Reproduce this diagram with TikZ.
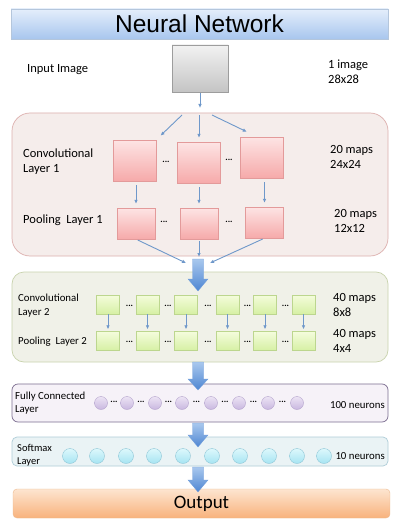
\documentclass[tikz,border=0pt]{standalone}
\usepackage{fontspec}
\setmainfont{Carlito}
\newfontfamily\titlefont{Liberation Sans}
\usepackage{tikz}
\usetikzlibrary{arrows.meta, positioning, calc}
\definecolor{titletop}{HTML}{E4EEFB}
\definecolor{titlebot}{HTML}{A8C6EE}
\definecolor{titleline}{HTML}{B4C6DC}
\definecolor{inputtop}{HTML}{F2F2F2}
\definecolor{inputbot}{HTML}{C4C4C4}
\definecolor{pinkpanel}{HTML}{F5EDEB}
\definecolor{pinkline}{HTML}{DDB0AE}
\definecolor{pinktop}{HTML}{FDE4E4}
\definecolor{pinkbot}{HTML}{F6AAAA}
\definecolor{pinkedge}{HTML}{E39A9A}
\definecolor{greenpanel}{HTML}{F0F1E8}
\definecolor{greenline}{HTML}{C9D3AE}
\definecolor{greentop}{HTML}{F4FCDC}
\definecolor{greenbot}{HTML}{D6F0A4}
\definecolor{greenedge}{HTML}{BCD68E}
\definecolor{purplepanel}{HTML}{F6F2F8}
\definecolor{purpleline}{HTML}{7C6D90}
\definecolor{purpletop}{HTML}{ECE4F4}
\definecolor{purplebot}{HTML}{C9B7E0}
\definecolor{purpleedge}{HTML}{B3A2CC}
\definecolor{cyanpanel}{HTML}{EAF3F5}
\definecolor{cyanline}{HTML}{AFCDD8}
\definecolor{cyantop}{HTML}{DDF8FC}
\definecolor{cyanbot}{HTML}{A6E4F2}
\definecolor{cyanedge}{HTML}{8EC6D6}
\definecolor{outtop}{HTML}{FDE5D0}
\definecolor{outbot}{HTML}{F8B27C}
\definecolor{outline}{HTML}{EDB98E}
\definecolor{arrowblue}{HTML}{6F98CA}
\definecolor{bigtop}{HTML}{A9C8EE}
\definecolor{bigbot}{HTML}{4E86D2}
\newcommand{\blockarrow}[4]{%
  \shade[top color=bigtop, bottom color=bigbot, draw=bigbot!80, line width=0.3pt]
    (#1-5.5,#2) -- (#1+5.5,#2) -- (#1+5.5,#3) -- (#1+10,#3) -- (#1,#4)
    -- (#1-10,#3) -- (#1-5.5,#3) -- cycle;}

\begin{document}
\begin{tikzpicture}[x=1pt, y=-1pt,
  lbl/.style={inner sep=0pt, align=left, anchor=west, font=\fontsize{12.5}{15}\selectfont},
  smlbl/.style={inner sep=0pt, align=left, anchor=west, font=\fontsize{10.8}{14}\selectfont},
  dots/.style={inner sep=0pt, font=\fontsize{9}{9}\selectfont\bfseries},
  thinarrow/.style={draw=arrowblue, line width=0.9pt, -{Latex[length=4pt, width=3.6pt]}},
  pinksq/.style={draw=pinkedge, line width=0.4pt, top color=pinktop, bottom color=pinkbot, inner sep=0pt},
  greensq/.style={draw=greenedge, line width=0.4pt, top color=greentop, bottom color=greenbot,
    inner sep=0pt, minimum width=23pt, minimum height=19pt},
  fcnode/.style={circle, draw=purpleedge, line width=0.4pt, top color=purpletop, bottom color=purplebot,
    inner sep=0pt, minimum size=13pt},
  smnode/.style={circle, draw=cyanedge, line width=0.4pt, top color=cyantop, bottom color=cyanbot,
    inner sep=0pt, minimum size=15pt},
  panel/.style={line width=0.7pt, inner sep=0pt, minimum width=376pt}]
\useasboundingbox[fill=white] (0,0) rectangle (400,532);

% title and input
\node[draw=titleline, top color=titletop, bottom color=titlebot, minimum width=377pt, minimum height=30pt,
  inner sep=0pt, font=\titlefont\fontsize{24.5}{24.5}\selectfont] (title) at (199.5,24) {Neural Network};
\node[draw=inputbot!80!black, top color=inputtop, bottom color=inputbot, minimum width=56pt,
  minimum height=47pt, inner sep=0pt] (input) at (200,68.5) {};
\node[lbl] (inlbl) at (27,70) {Input Image};
\node[lbl] (insize) at (328,72) {1 image\\28x28};

% panels
\node[panel, draw=pinkline, fill=pinkpanel, rounded corners=18pt, minimum height=143pt] (layer1) at (200,184.5) {};
\node[panel, draw=greenline, fill=greenpanel, rounded corners=12pt, minimum height=90pt] (layer2) at (200,317) {};
\node[panel, draw=purpleline, fill=purplepanel, rounded corners=6pt, minimum height=38pt] (fclayer) at (200,403) {};
\node[panel, draw=cyanline, fill=cyanpanel, rounded corners=5pt, minimum height=29pt] (smlayer) at (200,451.5) {};
\node[draw=outline, top color=outtop, bottom color=outbot, rounded corners=4pt, minimum width=377pt,
  minimum height=29pt, inner sep=0pt, font=\fontsize{19}{19}\selectfont] (output) at (201.5,503.5) {Output};

% convolutional layer 1 and pooling layer 1
\node[pinksq, minimum width=43pt, minimum height=41pt] (c1a) at (134.5,160.5) {};
\node[pinksq, minimum width=43pt, minimum height=41pt] (c1b) at (199,162.5) {};
\node[pinksq, minimum width=43pt, minimum height=41pt] (c1c) at (261.5,157.5) {};
\node[pinksq, minimum width=38pt, minimum height=31pt] (p1a) at (136,223.5) {};
\node[pinksq, minimum width=38pt, minimum height=31pt] (p1b) at (199,223.5) {};
\node[pinksq, minimum width=38pt, minimum height=31pt] (p1c) at (264.5,222.5) {};
\node[dots] (d1a) at (166,162) {...};
\node[dots] (d1b) at (229,160) {...};
\node[dots] (d1c) at (164,222) {...};
\node[dots] (d1d) at (229,222) {...};
\node[lbl] (c1lbl) at (23,162) {Convolutional\\Layer 1};
\node[lbl] (p1lbl) at (23,220) {Pooling\ \ Layer 1};
\node[lbl] (c1size) at (330,157) {20 maps\\24x24};
\node[lbl] (p1size) at (334,221) {20 maps\\12x12};

\coordinate (intip) at (200,108);
\coordinate (splitL) at (182,115);
\coordinate (splitC) at (199,115);
\coordinate (splitR) at (212,115);
\draw[thinarrow, shorten <=1pt] (input) -- (intip);
\draw[thinarrow, shorten >=6pt] (splitL) -- (c1a.north east);
\draw[thinarrow, shorten >=4pt] (splitC) -- (c1b.north);
\draw[thinarrow] (splitR) -- ($(c1c.north west)+(7,-5)$);
\draw[thinarrow, shorten <=4pt, shorten >=4pt] (c1a.south -| p1a.north) -- (p1a.north);
\draw[thinarrow, shorten <=4pt, shorten >=4pt] (c1b.south) -- (p1b.north);
\draw[thinarrow, shorten <=4pt, shorten >=4pt] (c1c.south -| p1c.north) -- (p1c.north);
\coordinate (m1L) at (186,263);
\coordinate (m1C) at (199,257);
\coordinate (m1R) at (210,263);
\draw[thinarrow, shorten <=2pt] (p1a.south) -- (m1L);
\draw[thinarrow, shorten <=2pt] (p1b.south) -- (m1C);
\draw[thinarrow, shorten <=2pt] (p1c.south) -- (m1R);

% convolutional layer 2 and pooling layer 2
\node[greensq] (c2a) at (108,304.5) {};
\node[greensq] (c2b) at (147.5,304.5) {};
\node[greensq] (c2c) at (186,304.5) {};
\node[greensq] (c2d) at (227.5,304.5) {};
\node[greensq] (c2e) at (265,304.5) {};
\node[greensq] (c2f) at (303.5,304.5) {};
\node[greensq] (p2a) at (108,341) {};
\node[greensq] (p2b) at (147.5,341) {};
\node[greensq] (p2c) at (186,341) {};
\node[greensq] (p2d) at (227.5,341) {};
\node[greensq] (p2e) at (265,341) {};
\node[greensq] (p2f) at (303.5,341) {};
\draw[thinarrow, shorten >=2pt] (c2a) -- (p2a);
\draw[thinarrow, shorten >=2pt] (c2b) -- (p2b);
\draw[thinarrow, shorten >=2pt] (c2c) -- (p2c);
\draw[thinarrow, shorten >=2pt] (c2d) -- (p2d);
\draw[thinarrow, shorten >=2pt] (c2e) -- (p2e);
\draw[thinarrow, shorten >=2pt] (c2f) -- (p2f);
\node[dots] (d2a) at (129.5,306) {...};
\node[dots] (d2b) at (168,306) {...};
\node[dots] (d2c) at (208,306) {...};
\node[dots] (d2d) at (247.5,306) {...};
\node[dots] (d2e) at (285.5,306) {...};
\node[dots] (d2f) at (129.5,342) {...};
\node[dots] (d2g) at (168,342) {...};
\node[dots] (d2h) at (208,342) {...};
\node[dots] (d2i) at (247.5,342) {...};
\node[dots] (d2j) at (285.5,342) {...};
\node[smlbl] (c2lbl) at (18,306) {Convolutional\\Layer 2};
\node[smlbl] (p2lbl) at (18,342) {Pooling\ \ Layer 2};
\node[lbl] (c2size) at (333,304.5) {40 maps\\8x8};
\node[lbl] (p2size) at (333,340.5) {40 maps\\4x4};

% fully connected layer
\node[fcnode] (f1) at (101,403) {};
\node[fcnode] (f2) at (127,403) {};
\node[fcnode] (f3) at (155,403) {};
\node[fcnode] (f4) at (182,403) {};
\node[fcnode] (f5) at (211,403) {};
\node[fcnode] (f6) at (239,403) {};
\node[fcnode] (f7) at (268,403) {};
\node[fcnode] (f8) at (297,403) {};
\node[dots] (d3a) at (114,401.5) {...};
\node[dots] (d3b) at (141,401.5) {...};
\node[dots] (d3c) at (168.5,401.5) {...};
\node[dots] (d3d) at (196.5,401.5) {...};
\node[dots] (d3e) at (225,401.5) {...};
\node[dots] (d3f) at (253.5,401.5) {...};
\node[dots] (d3g) at (282.5,401.5) {...};
\node[smlbl, font=\fontsize{10.8}{13}\selectfont] (fclbl) at (15,403) {Fully Connected\\Layer};
\node[smlbl, anchor=east] (fcsize) at (385,405) {100 neurons};

% softmax layer
\node[smnode] (s1) at (70,456) {};
\node[smnode] (s2) at (97,456) {};
\node[smnode] (s3) at (126,456) {};
\node[smnode] (s4) at (154,456) {};
\node[smnode] (s5) at (183,456) {};
\node[smnode] (s6) at (212,456) {};
\node[smnode] (s7) at (240,456) {};
\node[smnode] (s8) at (269,456) {};
\node[smnode] (s9) at (297,456) {};
\node[smnode] (s10) at (324,456) {};
\node[smlbl, font=\fontsize{10.5}{12.5}\selectfont] (smlbl) at (17,455) {Softmax\\Layer};
\node[smlbl, anchor=east] (smsize) at (385,456) {10 neurons};

% block arrows between the layers
\blockarrow{198}{259}{279}{291}
\blockarrow{198}{362}{379}{390}
\blockarrow{198}{423}{435}{447}
\blockarrow{198}{467}{480}{492}
\end{tikzpicture}
\end{document}
